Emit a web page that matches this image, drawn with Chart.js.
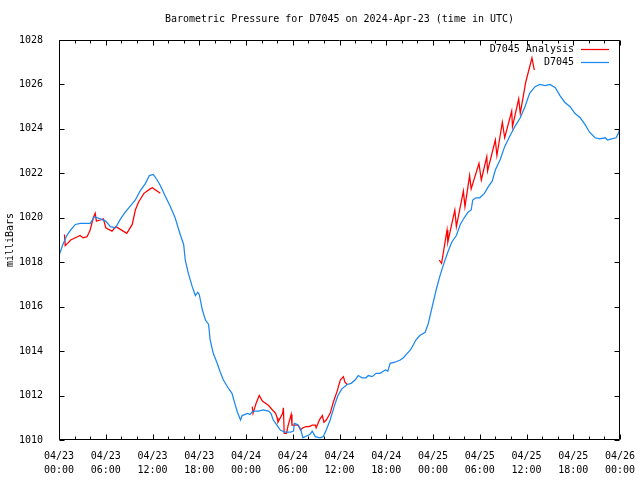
<!DOCTYPE html>
<html>
<head>
<meta charset="utf-8">
<script src="https://cdn.jsdelivr.net/npm/chart.js@4.4.1/dist/chart.umd.min.js"></script>
<style>
html,body{margin:0;padding:0;background:#fff;}
#wrap{width:640px;height:480px;}
</style>
</head>
<body>
<div id="wrap"><canvas id="c" width="640" height="480"></canvas></div>
<script>
const chartTitle = 'Barometric Pressure for D7045 on 2024-Apr-23 (time in UTC)';
const yAxisTitle = 'milliBars';
const seriesNames = ['D7045 Analysis', 'D7045'];
const startMonth = '04';
const startDay = 23;

// hours since 2024-04-23 00:00 UTC
const analysisHours = [
  0.7, 0.8, 1.1, 1.5, 2.1, 2.7, 3.1, 3.6, 4.0, 4.4, 4.65, 4.8, 5.3, 5.7, 6.0, 6.8, 7.3, 8.7, 9.4, 9.8, 10.2, 10.9, 11.7, 12.0, 12.4, 13.0,
  18.0,
  24.8, 24.9, 25.3, 25.7, 26.1, 26.5, 26.9, 27.4, 27.8, 28.0, 28.1, 28.7, 28.8, 28.9, 29.2, 29.4, 29.8, 29.9, 30.3, 30.7, 31.0, 31.3, 31.7, 32.1, 32.5, 32.9, 33.0, 33.3, 33.5, 33.8, 34.0, 34.3, 34.8, 35.2, 35.7, 36.1, 36.5, 36.7, 37.0,
  43.0,
  48.8, 49.1, 49.8, 49.9, 50.8, 51.0, 51.9, 52.1, 52.7, 52.9, 53.9, 54.2, 54.9, 55.0, 56.0, 56.2, 56.9, 57.2, 58.1, 58.2, 59.0, 59.2, 59.9, 60.7, 61.0
];
const analysisValues = [
  1019.25, 1018.75, 1018.85, 1019.0, 1019.1, 1019.2, 1019.1, 1019.15, 1019.45, 1020.0, 1020.2, 1019.85, 1019.9, 1019.95, 1019.55, 1019.4, 1019.6, 1019.3, 1019.7, 1020.35, 1020.7, 1021.1, 1021.3, 1021.35, 1021.25, 1021.1,
  null,
  1011.5, 1011.2, 1011.65, 1012.0, 1011.75, 1011.65, 1011.55, 1011.35, 1011.2, 1011.0, 1010.8, 1011.2, 1011.45, 1010.3, 1010.3, 1010.65, 1011.15, 1010.67, 1010.67, 1010.67, 1010.45, 1010.55, 1010.6, 1010.6, 1010.67, 1010.67, 1010.55, 1010.8, 1010.95, 1011.1, 1010.8, 1010.9, 1011.2, 1011.7, 1012.2, 1012.7, 1012.85, 1012.6, 1012.5,
  null,
  1018.1, 1017.95, 1019.45, 1018.9, 1020.35, 1019.6, 1021.2, 1020.5, 1021.9, 1021.3, 1022.45, 1021.7, 1022.75, 1022.1, 1023.5, 1022.8, 1024.3, 1023.6, 1024.8, 1024.1, 1025.35, 1024.7, 1026.1, 1027.2, 1026.65
];

const stationHours = [
  0.0, 0.5, 1.0, 1.5, 2.1, 2.75, 3.4, 4.0, 4.55, 5.3, 6.0, 6.6, 7.25, 7.9, 8.5, 9.2, 9.8, 10.4, 11.1, 11.6, 12.1, 12.6, 13.0, 13.6,
  14.3, 14.9, 15.6, 16.0, 16.2, 16.6, 17.1, 17.5, 17.8, 18.0, 18.4, 18.8, 19.2, 19.4, 19.8, 20.3, 20.7, 21.1, 21.7, 22.2, 22.6, 22.9, 23.3, 23.5, 24.2, 24.5,
  24.9, 25.6, 26.2, 26.9, 27.2, 27.5, 27.9, 28.4, 29.0, 29.7, 30.1, 30.2, 30.6, 31.0, 31.3, 31.9, 32.2, 32.5, 32.9, 33.5, 33.9, 34.3, 34.8, 35.4, 35.8, 36.3, 37.0,
  37.5, 38.0, 38.4, 38.9, 39.4, 39.7, 40.2, 40.7, 41.2, 41.9, 42.2, 42.5, 43.1, 43.8, 44.2, 44.7, 45.1, 45.5, 45.8, 46.3, 47.0, 47.4, 47.9, 48.4, 48.9, 49.4, 49.9,
  50.4, 51.0, 51.5, 52.0, 52.5, 52.9, 53.1, 53.5, 54.0, 54.6, 55.1, 55.6, 56.0, 56.6, 57.2, 57.9, 58.5, 59.2, 59.8, 60.4, 61.1, 61.7, 62.4, 63.0, 63.7,
  64.3, 64.9, 65.6, 66.2, 66.9, 67.5, 68.1, 68.8, 69.4, 70.1, 70.4, 70.9, 71.5, 71.8, 72.0
];
const stationValues = [
  1018.3, 1018.8, 1019.2, 1019.45, 1019.7, 1019.75, 1019.75, 1019.75, 1020.05, 1019.95, 1019.85, 1019.6, 1019.55, 1019.95, 1020.25, 1020.55, 1020.8, 1021.2, 1021.55, 1021.9, 1021.95, 1021.7, 1021.45, 1021.0,
  1020.5, 1020.0, 1019.2, 1018.8, 1018.1, 1017.5, 1016.9, 1016.5, 1016.65, 1016.55, 1015.85, 1015.4, 1015.2, 1014.5, 1013.9, 1013.45, 1013.05, 1012.7, 1012.35, 1012.1, 1011.6, 1011.25, 1010.9, 1011.1, 1011.2, 1011.15,
  1011.3, 1011.3, 1011.35, 1011.3, 1011.2, 1010.9, 1010.7, 1010.45, 1010.35, 1010.35, 1010.4, 1010.75, 1010.7, 1010.5, 1010.1, 1010.2, 1010.25, 1010.4, 1010.15, 1010.1, 1010.15, 1010.45, 1010.9, 1011.6, 1012.0, 1012.3, 1012.5,
  1012.55, 1012.7, 1012.9, 1012.8, 1012.8, 1012.9, 1012.85, 1013.0, 1013.0, 1013.15, 1013.1, 1013.45, 1013.5, 1013.6, 1013.7, 1013.9, 1014.05, 1014.3, 1014.5, 1014.7, 1014.85, 1015.25, 1016.0, 1016.75, 1017.4, 1017.95, 1018.45,
  1018.9, 1019.2, 1019.7, 1020.0, 1020.25, 1020.35, 1020.8, 1020.9, 1020.9, 1021.1, 1021.4, 1021.65, 1022.15, 1022.6, 1023.2, 1023.7, 1024.1, 1024.5, 1025.0, 1025.6, 1025.9, 1026.0, 1025.95, 1026.0, 1025.85,
  1025.5, 1025.2, 1025.0, 1024.7, 1024.5, 1024.2, 1023.85, 1023.6, 1023.55, 1023.6, 1023.5, 1023.55, 1023.6, 1023.8, 1024.05
];

const xMin = 0, xMax = 72, xMajorStep = 6, xMinorStep = 2;
const yMin = 1010, yMax = 1028, yStep = 2;

const FONT = 'DejaVu Sans Mono';
const RED = '#ff0000';
const BLUE = '#1a88f0';

function pad2(n){ return (n < 10 ? '0' : '') + n; }
function xLabel(v){
  const day = startDay + Math.floor(v / 24);
  const hr = v % 24;
  return [startMonth + '/' + pad2(day), pad2(hr) + ':00'];
}

const frame = {
  id: 'frame',
  afterDatasetsDraw(chart){
    const ctx = chart.ctx, a = chart.chartArea;
    const xs = chart.scales.x, ys = chart.scales.y;
    ctx.save();
    ctx.strokeStyle = '#000';
    ctx.lineWidth = 1;
    ctx.beginPath();
    const L = Math.round(a.left) + 0.5, R = Math.round(a.right) - 0.5;
    const T = Math.round(a.top) + 0.5, B = Math.round(a.bottom) - 0.5;
    for (let v = xMin; v <= xMax; v += xMinorStep) {
      const px = Math.round(xs.getPixelForValue(v)) + 0.5;
      const len = (v % xMajorStep === 0) ? 5 : 3;
      ctx.moveTo(px, B); ctx.lineTo(px, B - len);
      ctx.moveTo(px, T); ctx.lineTo(px, T + len);
    }
    for (let v = yMin; v <= yMax; v += yStep) {
      const py = Math.round(ys.getPixelForValue(v)) + 0.5;
      ctx.moveTo(L, py); ctx.lineTo(L + 5, py);
      ctx.moveTo(R, py); ctx.lineTo(R - 5, py);
    }
    ctx.rect(L, T, R - L, B - T);
    ctx.stroke();

    ctx.fillStyle = '#000';
    ctx.font = '10px "' + FONT + '"';
    ctx.textAlign = 'center';
    ctx.textBaseline = 'middle';
    ctx.fillText(chartTitle, (a.left + a.right) / 2, 19);

    ctx.save();
    ctx.translate(10, (a.top + a.bottom) / 2);
    ctx.rotate(-Math.PI / 2);
    ctx.fillText(yAxisTitle, 0, 0);
    ctx.restore();

    const colors = [RED, BLUE];
    const rows = [49, 62];
    ctx.textAlign = 'right';
    ctx.lineWidth = 1.25;
    for (let i = 0; i < seriesNames.length; i++) {
      ctx.fillStyle = '#000';
      ctx.fillText(seriesNames[i], 574, rows[i]);
      ctx.strokeStyle = colors[i];
      ctx.beginPath();
      ctx.moveTo(581, rows[i] + 0.5);
      ctx.lineTo(609, rows[i] + 0.5);
      ctx.stroke();
    }
    ctx.restore();
  }
};

const analysisData = analysisHours.map((h, i) => ({x: h, y: analysisValues[i]}));
const stationData = stationHours.map((h, i) => ({x: h, y: stationValues[i]}));

new Chart(document.getElementById('c'), {
  type: 'line',
  data: {
    datasets: [
      { label: seriesNames[1], data: stationData, borderColor: BLUE, borderWidth: 1.25, pointRadius: 0, tension: 0, fill: false, order: 0 },
      { label: seriesNames[0], data: analysisData, borderColor: RED, borderWidth: 1.25, pointRadius: 0, tension: 0, fill: false, spanGaps: false, order: 1 }
    ]
  },
  options: {
    responsive: false,
    animation: false,
    devicePixelRatio: 1,
    layout: { padding: { top: 40, right: 20, left: 0, bottom: 0 } },
    plugins: { legend: { display: false }, title: { display: false }, tooltip: { enabled: false } },
    scales: {
      x: {
        type: 'linear', min: xMin, max: xMax,
        grid: { display: false }, border: { display: false },
        afterFit(s){ s.height = 40; },
        afterBuildTicks(s){ const t = []; for (let v = xMin; v <= xMax; v += xMajorStep) t.push({value: v}); s.ticks = t; },
        ticks: { autoSkip: false, maxRotation: 0, minRotation: 0, padding: 1, color: '#000',
          font: { family: FONT, size: 10, lineHeight: 1.4 },
          callback: (v) => xLabel(v) }
      },
      y: {
        type: 'linear', min: yMin, max: yMax,
        grid: { display: false }, border: { display: false },
        afterFit(s){ s.width = 59; },
        ticks: { stepSize: yStep, padding: 8, color: '#000', font: { family: FONT, size: 10 },
          callback: (v) => String(v) }
      }
    }
  },
  plugins: [frame]
});
</script>
</body>
</html>
